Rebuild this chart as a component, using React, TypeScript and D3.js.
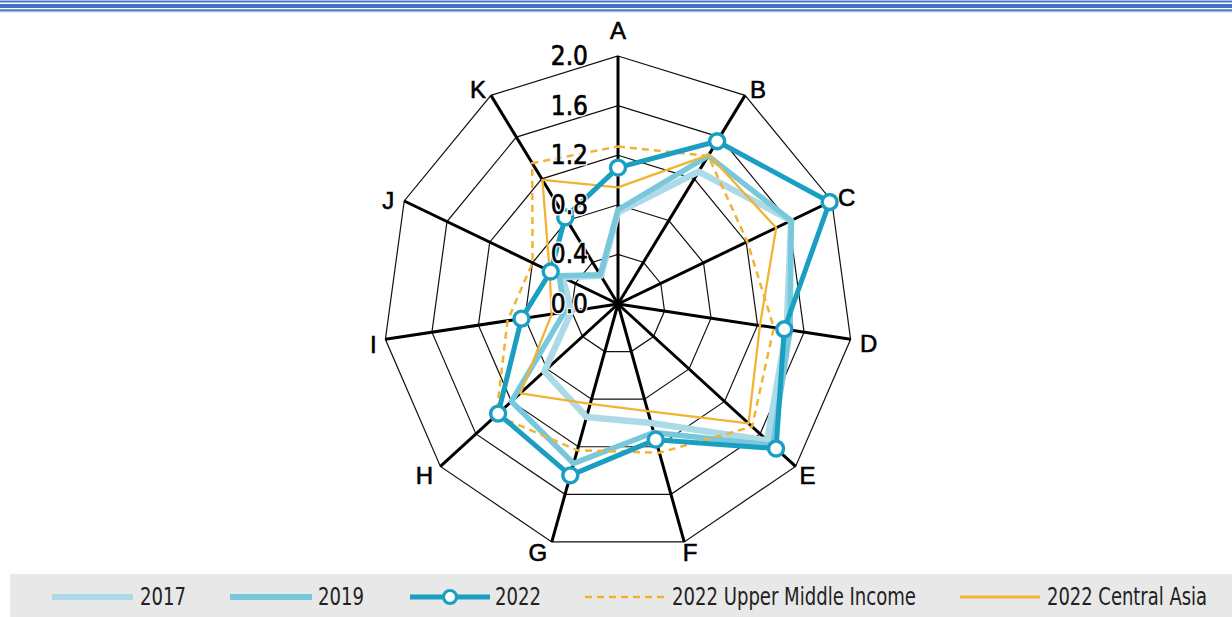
import React, { useEffect } from "react";
import * as d3 from "d3";

// ---------- data ----------
const AXES = ["A", "B", "C", "D", "E", "F", "G", "H", "I", "J", "K"];
const TICKS = [0, 0.4, 0.8, 1.2, 1.6, 2.0];
const S2017 = [0.74, 1.27, 1.62, 1.45, 1.68, 1.0, 0.95, 0.83, 0.4, 0.52, 0.27];
const S2019 = [0.76, 1.42, 1.62, 1.48, 1.74, 1.08, 1.34, 1.2, 0.46, 0.55, 0.28];
const S2022 = [1.1, 1.56, 1.98, 1.43, 1.78, 1.14, 1.44, 1.35, 0.83, 0.63, 0.83];
const S_UMI = [1.27, 1.42, 1.21, 1.34, 1.51, 1.25, 1.23, 1.37, 0.95, 0.8, 1.35];
const S_CA = [0.94, 1.43, 1.48, 1.22, 1.47, 0.9, 0.84, 1.1, 0.57, 0.64, 1.19];
const LEGEND_LABELS = ["2017", "2019", "2022", "2022 Upper Middle Income", "2022 Central Asia"];

// ---------- layout ----------
const W = 1232;
const H = 617;
const CX = 618;
const CY = 304;
const RX = 235;
const RY = 248;
const C2017 = "#acdbe7";
const C2019 = "#78c8dc";
const C2022 = "#1a9fc3";
const CORANGE = "#f2b333";
const NARROW = "'Liberation Sans Narrow', 'Arial Narrow', 'DejaVu Sans Condensed', sans-serif";
const SANS = "'Liberation Sans', Arial, sans-serif";

const LABEL_OFFSETS: [number, number][] = [
  [0, -26], [13, -6], [15, -3], [18, 4], [12, 9], [6, 11],
  [-14, 11], [-16, 9], [-12, 5], [-16, 0], [-13, -6],
];

const angle = d3.scaleLinear().domain([0, AXES.length]).range([0, 2 * Math.PI]);
const rX = d3.scaleLinear().domain([0, 2]).range([0, RX]);
const rY = d3.scaleLinear().domain([0, 2]).range([0, RY]);

function pt(i: number, v: number): [number, number] {
  const a = angle(i);
  return [CX + rX(v) * Math.sin(a), CY - rY(v) * Math.cos(a)];
}

const closed = d3.line<[number, number]>().curve(d3.curveLinearClosed);

function poly(vals: number[]) {
  return closed(vals.map((v, i) => pt(i, v))) || "";
}

export default function App() {
  useEffect(() => {
    document.body.style.margin = "0";
  }, []);

  const legendItems = [
    { x1: 52, x2: 133, tx: 140, tw: 46, kind: "l17" },
    { x1: 230, x2: 312, tx: 318, tw: 46, kind: "l19" },
    { x1: 410, x2: 490, tx: 495, tw: 46, kind: "l22" },
    { x1: 585, x2: 665, tx: 672, tw: 244, kind: "umi" },
    { x1: 960, x2: 1040, tx: 1047, tw: 160, kind: "ca" },
  ];
  const LY = 597;

  return (
    <svg width={W} height={H} style={{ display: "block" }} xmlns="http://www.w3.org/2000/svg">
      <rect x={0} y={0} width={W} height={H} fill="#ffffff" />
      {/* top border stripes */}
      <rect x={0} y={0} width={W} height={1} fill="#a9bde6" />
      <rect x={0} y={1} width={W} height={1.5} fill="#4a76c6" />
      <rect x={0} y={4} width={W} height={4} fill="#4472c4" />
      <rect x={0} y={9.3} width={W} height={2} fill="#4a76c6" />
      <rect x={0} y={11.3} width={W} height={1} fill="#a9bde6" />

      {/* rings */}
      {TICKS.filter((t) => t > 0).map((t) => (
        <path key={"ring" + t} d={poly(AXES.map(() => t))} fill="none" stroke="#111" strokeWidth={1.2} />
      ))}
      {/* spokes */}
      {AXES.map((a, i) => {
        const [x, y] = pt(i, 2);
        return <line key={"sp" + a} x1={CX} y1={CY} x2={x} y2={y} stroke="#000" strokeWidth={3} />;
      })}

      {/* series */}
      <path d={poly(S2017)} fill="none" stroke={C2017} strokeWidth={6.5} strokeLinejoin="round" />
      <path d={poly(S2019)} fill="none" stroke={C2019} strokeWidth={5.5} strokeLinejoin="round" />
      <path d={poly(S_UMI)} fill="none" stroke={CORANGE} strokeWidth={2.5} strokeDasharray="7 5" />
      <path d={poly(S_CA)} fill="none" stroke={CORANGE} strokeWidth={2.3} strokeLinejoin="round" />
      <path d={poly(S2022)} fill="none" stroke={C2022} strokeWidth={5} strokeLinejoin="round" />
      {S2022.map((v, i) => {
        const [x, y] = pt(i, v);
        return <circle key={"m" + i} cx={x} cy={y} r={7.5} fill="#fff" stroke={C2022} strokeWidth={3.4} />;
      })}

      {/* tick labels: white halo then heavier fill */}
      {TICKS.map((t) => (
        <g key={"t" + t}>
          <text
            x={CX - 30}
            y={CY - rY(t)}
            textAnchor="end"
            dominantBaseline="central"
            fontFamily={NARROW}
            fontSize={26}
            fill="#fff"
            stroke="#fff"
            strokeWidth={3}
          >
            {t.toFixed(1)}
          </text>
          <text
            x={CX - 30}
            y={CY - rY(t)}
            textAnchor="end"
            dominantBaseline="central"
            fontFamily={NARROW}
            fontSize={26}
            fill="#000"
            stroke="#000"
            strokeWidth={0.6}
          >
            {t.toFixed(1)}
          </text>
        </g>
      ))}

      {/* axis labels */}
      {AXES.map((a, i) => {
        const [x, y] = pt(i, 2);
        const [dx, dy] = LABEL_OFFSETS[i];
        return (
          <text
            key={"ax" + a}
            x={x + dx}
            y={y + dy}
            textAnchor="middle"
            dominantBaseline="central"
            fontFamily={SANS}
            fontSize={24}
            fill="#000"
            stroke="#000"
            strokeWidth={0.6}
          >
            {a}
          </text>
        );
      })}

      {/* legend */}
      <rect x={10} y={574} width={W - 10} height={H - 574} fill="#e8e8e8" />
      {legendItems.map((it, k) => {
        let mark: React.ReactNode = null;
        if (it.kind === "l17")
          mark = <line x1={it.x1} x2={it.x2} y1={LY} y2={LY} stroke={C2017} strokeWidth={6} />;
        else if (it.kind === "l19")
          mark = <line x1={it.x1} x2={it.x2} y1={LY} y2={LY} stroke={C2019} strokeWidth={6} />;
        else if (it.kind === "l22")
          mark = (
            <g>
              <line x1={it.x1} x2={it.x2} y1={LY} y2={LY} stroke={C2022} strokeWidth={5} />
              <circle cx={(it.x1 + it.x2) / 2} cy={LY} r={6.5} fill="#fff" stroke={C2022} strokeWidth={3.2} />
            </g>
          );
        else if (it.kind === "umi")
          mark = <line x1={it.x1} x2={it.x2} y1={LY} y2={LY} stroke={CORANGE} strokeWidth={2.4} strokeDasharray="7 5" />;
        else mark = <line x1={it.x1} x2={it.x2} y1={LY} y2={LY} stroke={CORANGE} strokeWidth={3} />;
        return (
          <g key={"lg" + k}>
            {mark}
            <text
              x={it.tx}
              y={LY}
              dominantBaseline="central"
              fontFamily={NARROW}
              fontSize={24}
              fill="#222"
              textLength={it.tw}
              lengthAdjust="spacingAndGlyphs"
            >
              {LEGEND_LABELS[k]}
            </text>
          </g>
        );
      })}
    </svg>
  );
}
